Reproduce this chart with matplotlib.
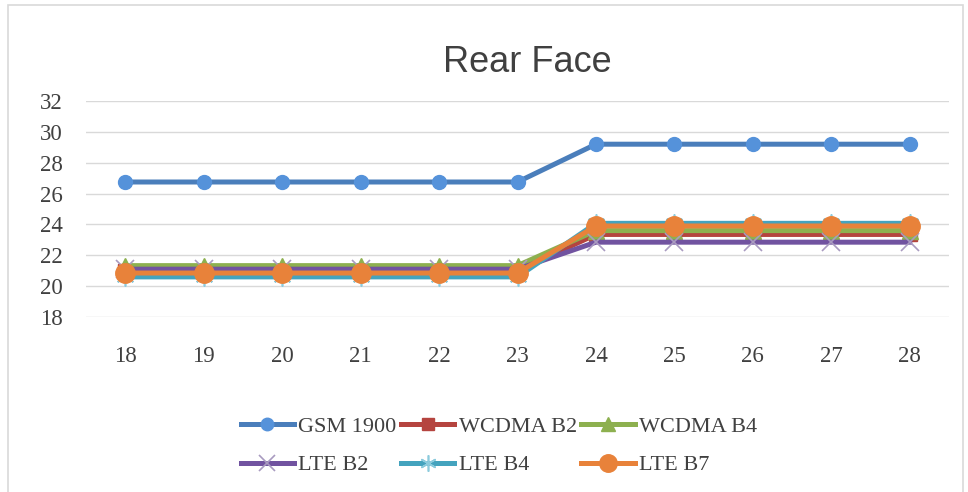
import matplotlib
matplotlib.use("Agg")
import matplotlib.pyplot as plt
from matplotlib.patches import Rectangle

channels = [18, 19, 20, 21, 22, 23, 24, 25, 26, 27, 28]
series_names = ["GSM 1900", "WCDMA B2", "WCDMA B4", "LTE B2", "LTE B4", "LTE B7"]
gsm1900 = [26.75, 26.75, 26.75, 26.75, 26.75, 26.75, 29.2, 29.2, 29.2, 29.2, 29.2]
wcdma_b2 = [21.0, 21.0, 21.0, 21.0, 21.0, 21.0, 23.35, 23.35, 23.35, 23.35, 23.35]
wcdma_b4 = [21.33, 21.33, 21.33, 21.33, 21.33, 21.33, 23.6, 23.6, 23.6, 23.6, 23.6]
lte_b2 = [21.1, 21.1, 21.1, 21.1, 21.1, 21.1, 22.85, 22.85, 22.85, 22.85, 22.85]
lte_b4 = [20.6, 20.6, 20.6, 20.6, 20.6, 20.6, 24.07, 24.07, 24.07, 24.07, 24.07]
lte_b7 = [20.85, 20.85, 20.85, 20.85, 20.85, 20.85, 23.9, 23.9, 23.9, 23.9, 23.9]
yticks = [18, 20, 22, 24, 26, 28, 30, 32]
title = "Rear Face"

W, H = 968, 492
fig = plt.figure(figsize=(W / 100, H / 100), dpi=100)
fig.patches.append(Rectangle((8 / W, -0.01), (963 - 8) / W, 1 - 5 / H + 0.01,
                             transform=fig.transFigure, fill=False,
                             edgecolor="#D9D9D9", linewidth=1.2))

ax = fig.add_axes([86 / W, 1 - 317 / H, (949 - 86) / W, (317 - 101) / H])

styles = [
    dict(color="#4A7EBB", marker="o", ms=10, mfc="#5592DA", mec="#5592DA"),
    dict(color="#B5443F", marker="s", ms=10, mfc="#B5443F", mec="#B5443F"),
    dict(color="#8DB04F", marker="^", ms=11, mfc="#8DB04F", mec="#8DB04F"),
    dict(color="#7153A0", marker="x", ms=13, mfc="none", mec="#A99BC0", mew=1.2),
    dict(color="#44A3BE", marker=(6, 2, 0), ms=13, mfc="none", mec="#8CCBDD", mew=1.2),
    dict(color="#E8823A", marker="o", ms=14, mfc="#E8823A", mec="#E8823A"),
]
data = [gsm1900, wcdma_b2, wcdma_b4, lte_b2, lte_b4, lte_b7]
handles = []
for i, (name, vals, st) in enumerate(zip(series_names, data, styles)):
    h, = ax.plot(channels, vals, label=name, linewidth=3.6, zorder=3 + i, **st)
    handles.append(h)

ax.set_xlim(17.5, 28.5)
ax.set_ylim(18, 32)
ax.set_yticks(yticks)
ax.set_xticks(channels)
ax.grid(axis="y", color="#D9D9D9", linewidth=1.0, zorder=0)
ax.set_axisbelow(True)
for s in ax.spines.values():
    s.set_visible(False)
ax.tick_params(axis="both", length=0, labelsize=16.5, labelcolor="#404040")
ax.tick_params(axis="y", pad=17)
ax.tick_params(axis="x", pad=21)
for lab in ax.get_xticklabels() + ax.get_yticklabels():
    lab.set_fontfamily("Liberation Serif")

fig.text(527 / W, 1 - 62 / H, title, ha="center", va="center",
         fontsize=26, family="Liberation Sans", color="#404040")

# row-major order for a 3-column, 2-row legend
order = [0, 3, 1, 4, 2, 5]
leg = fig.legend([handles[i] for i in order], [series_names[i] for i in order],
                 loc="center", bbox_to_anchor=(499 / W, 1 - 446 / H), ncol=3,
                 frameon=False, handlelength=2.4, handletextpad=0.2,
                 columnspacing=0.2, labelspacing=0.8, markerscale=0.9,
                 prop={"family": "Liberation Serif", "size": 16})
for t in leg.get_texts():
    t.set_color("#404040")

fig.savefig("out.png", dpi=100)
